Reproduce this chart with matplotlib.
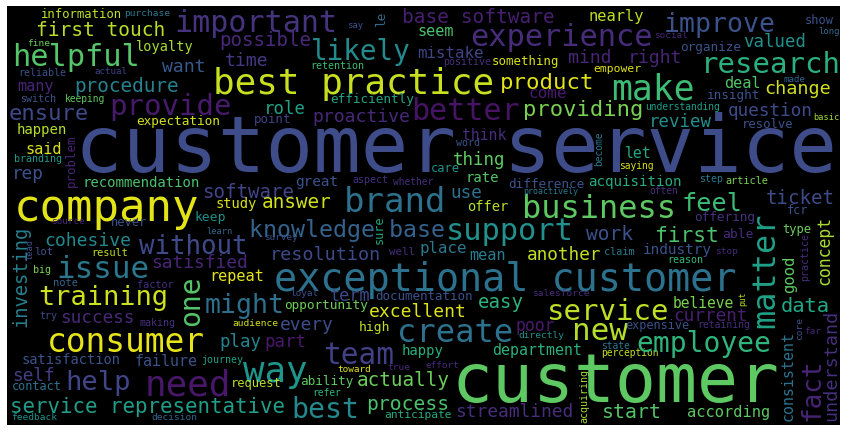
import matplotlib
matplotlib.use("Agg")
import matplotlib.pyplot as plt
from matplotlib.patches import Rectangle

# word cloud: words and their relative weight (drives font size)
words = [
    "customer service", "customer", "company", "exceptional customer", "best practice",
    "important", "experience", "base software", "nearly", "improve", "show", "long",
    "social", "valued", "organize", "mind", "right", "research", "make", "change",
    "deal", "made", "insight", "understanding", "question", "basic", "review",
    "resolve", "providing", "seem", "mistake", "positive", "something", "empower",
    "product", "come", "better", "think", "word", "become", "possible", "likely",
    "say", "le", "time", "retention", "efficiently", "role", "proactive", "point",
    "information", "purchase", "first touch", "fine", "helpful", "loyalty", "want",
    "reliable", "actual", "procedure", "many", "switch", "keeping", "provide",
    "ensure", "expectation", "happen", "problem", "said", "branding", "rep",
    "recommendation", "software", "keep", "source", "never", "learn", "investing",
    "cohesive", "without", "lead", "lot", "result", "satisfied", "issue", "big",
    "note", "factor", "one", "might", "training", "try", "success", "making",
    "consumer", "satisfaction", "failure", "journey", "self", "help", "need",
    "contact", "service representative", "feedback", "decision", "loyal", "term",
    "documentation", "opportunity", "excellent", "audience", "every", "high",
    "create", "play", "part", "team", "happy", "way", "toward", "true", "request",
    "ability", "actually", "refer", "best", "process", "anticipate", "salesforce",
    "easy", "service", "poor", "new", "expensive", "directly", "department",
    "state", "perception", "effort", "acquiring", "streamlined", "start",
    "believe", "put", "matter", "data", "current", "retaining", "core", "far",
    "employee", "consistent", "fact", "understand", "according", "let", "saying",
    "acquisition", "step", "article", "often", "business", "feel", "ticket", "fcr",
    "offering", "first", "able", "type", "concept", "industry", "stop", "reason",
    "good", "practice", "thing", "care", "rate", "difference", "whether",
    "proactively", "brand", "use", "offer", "knowledge base", "support", "work",
    "place", "mean", "another", "claim", "great", "aspect", "answer", "study",
    "sure", "survey", "well", "resolution", "repeat",
]
weights = [
    79, 68, 44, 38.5, 36,
    30, 30.4, 19.5, 15.4, 26.5, 12, 9,
    9.4, 17.4, 12.7, 18.2, 18.2, 29, 34.7, 18.5,
    15.2, 9.1, 12.6, 9.7, 17.6, 8.6, 17.4,
    12.2, 22.2, 15.2, 15.8, 10, 12.4, 11.4,
    22.4, 16, 30, 14.8, 10, 9.7, 19.1, 27.6,
    9, 12.8, 18.2, 10, 12.7, 17.4, 18.2, 12.4,
    12.3, 9.5, 19.5, 9.5, 30.4, 13.6, 18.2,
    10, 9.1, 19.4, 15.2, 10, 9.7, 29,
    22.2, 12.7, 14, 12.4, 15.2, 10, 17.6,
    14, 19.1, 13, 9.4, 12, 8.6, 18.8,
    18, 25.8, 8.7, 10.5, 10.3, 17.9, 30.9, 10,
    10.4, 10.3, 28, 26.5, 27, 10, 17.7, 10,
    32.9, 13.8, 15, 10, 17.8, 27.3, 36,
    11.9, 20.8, 9.5, 9.5, 9.3, 16.9,
    12.5, 12.7, 18, 9.5, 17.9, 13,
    32.2, 17.4, 17.4, 29.5, 14, 35.7, 9.4, 9.5, 12.1,
    12.6, 19.3, 9.6, 28.2, 19.7, 11.2, 9.5,
    19, 29, 16.5, 31, 11.7, 9.5, 14.9,
    9.6, 9.6, 9.4, 10, 17.9, 19.9,
    14.6, 8, 31.9, 20.4, 17.7, 9.8, 9.5, 9.4,
    28, 15, 26, 18.4, 15.4, 14.7, 9.7,
    14.1, 10, 10.2, 9.6, 32, 25.2, 19.1, 11.7,
    12.7, 21.3, 13, 12.1, 16.5, 14.4, 9.5, 10,
    15.6, 10, 17.5, 12.1, 13.9, 12.7, 9.7,
    8.4, 34, 17.6, 13.8, 23.3, 30.4, 19.5,
    15.8, 15.2, 17.7, 10.3, 14.4, 10, 19.4, 13.8,
    11.7, 9.4, 10.9, 18.4, 15.2,
]

# placement of each word (centre x, centre y in pixels, rotation, colour)
layout = {
    "customer service": (456, 150, 0, "#3e4c8a"),
    "customer": (615, 383, 0, "#5ec962"),
    "company": (106, 208, 0, "#e2e418"),
    "exceptional customer": (505, 280, 0, "#2c728e"),
    "best practice": (354, 84, 0, "#c8e020"),
    "important": (256, 24, 0, "#46337e"),
    "experience": (561, 37, 0, "#472c7a"),
    "base software": (478, 17.5, 0, "#481f70"),
    "nearly": (616, 17, 0, "#bddf26"),
    "improve": (720, 25, 0, "#3b528b"),
    "show": (819, 20, 0, "#3b528b"),
    "long": (829, 31, 0, "#31688e"),
    "social": (671, 35, 0, "#482475"),
    "valued": (775, 42, 0, "#21918c"),
    "organize": (711, 47, 0, "#3b528b"),
    "mind": (590, 58, 0, "#482576"),
    "right": (655, 58, 0, "#482576"),
    "research": (771, 65, 0, "#2ab07f"),
    "make": (653, 90, 0, "#3dbc74"),
    "change": (798, 89, 0, "#d0e11c"),
    "deal": (742, 84, 0, "#52c569"),
    "made": (795, 79, 0, "#33638d"),
    "insight": (734, 96, 0, "#3b528b"),
    "understanding": (683, 107, 0, "#1f9e89"),
    "question": (770, 111, 0, "#3e4a89"),
    "basic": (826, 117, 0, "#a0da39"),
    "review": (680, 122, 0, "#218f8d"),
    "resolve": (768, 124, 0, "#3b528b"),
    "providing": (583, 110, 0, "#7ad151"),
    "seem": (436, 31, 0, "#4ac16d"),
    "mistake": (450, 54, 0, "#414487"),
    "positive": (467, 62, 0, "#46307e"),
    "something": (526, 62, 0, "#d8e219"),
    "empower": (617, 69, 0, "#e5e419"),
    "product": (547, 83, 0, "#e2e418"),
    "come": (548, 94, 0, "#481a6c"),
    "better": (466, 112, 0, "#471365"),
    "think": (484, 136, 0, "#472d7b"),
    "word": (468, 143, 0, "#3b528b"),
    "become": (599, 149, 90, "#2a788e"),
    "possible": (265, 41, 0, "#482878"),
    "likely": (361, 52, 0, "#238a8d"),
    "say": (355, 25, 0, "#3b528b"),
    "le": (381, 18, 90, "#2f6c8e"),
    "time": (247, 61, 0, "#443983"),
    "retention": (337, 66, 0, "#3dbc74"),
    "efficiently": (372, 99, 0, "#20a386"),
    "role": (285, 109, 0, "#1fa187"),
    "proactive": (361, 117, 0, "#482878"),
    "point": (273, 120, 0, "#414487"),
    "information": (82, 14, 0, "#bddf26"),
    "purchase": (147, 13.5, 0, "#2a788e"),
    "first touch": (101, 31, 0, "#b8de29"),
    "fine": (39, 43, 0, "#6ccd5a"),
    "helpful": (76, 58, 0, "#54c568"),
    "loyalty": (165, 47, 0, "#a8db34"),
    "want": (184, 67, 0, "#38598c"),
    "reliable": (42, 73, 0, "#3b528b"),
    "actual": (111, 72, 0, "#414487"),
    "procedure": (127, 86, 0, "#26828e"),
    "many": (36, 86, 0, "#482576"),
    "switch": (38, 99, 0, "#3b528b"),
    "keeping": (85, 99, 0, "#5ec962"),
    "provide": (171, 107, 0, "#481a6c"),
    "ensure": (49, 114, 0, "#3e4a89"),
    "expectation": (178, 121, 0, "#d2e21b"),
    "happen": (42, 130, 0, "#b5de2b"),
    "problem": (71, 161, 90, "#482475"),
    "said": (44, 149, 0, "#dae319"),
    "branding": (38, 159, 0, "#1f9a8a"),
    "rep": (28, 174, 0, "#3b528b"),
    "recommendation": (141, 183, 0, "#4ac16d"),
    "software": (248, 192, 0, "#414487"),
    "keep": (210, 218, 0, "#21918c"),
    "source": (68, 222, 0, "#482878"),
    "never": (129, 223, 0, "#3b528b"),
    "learn": (219, 231, 0, "#31688e"),
    "investing": (21, 276, 90, "#277f8e"),
    "cohesive": (88, 241, 0, "#23888e"),
    "without": (193, 247, 0, "#3e4a89"),
    "lead": (30, 249, 90, "#3b528b"),
    "lot": (44, 252, 0, "#3b528b"),
    "result": (110, 253, 0, "#c0df25"),
    "satisfied": (200, 263, 0, "#482677"),
    "issue": (103, 270, 0, "#2a788e"),
    "big": (42, 270, 0, "#7ad151"),
    "note": (65, 283, 0, "#33638d"),
    "factor": (155, 285, 0, "#46307e"),
    "one": (191, 301, 90, "#54c568"),
    "might": (245, 306, 0, "#2d708e"),
    "training": (103, 298, 0, "#cde11d"),
    "try": (48, 316, 0, "#3e4a89"),
    "success": (97, 318, 0, "#482878"),
    "making": (157, 323, 0, "#472f7d"),
    "consumer": (126, 343, 0, "#e7e419"),
    "satisfaction": (71, 360, 0, "#3b528b"),
    "failure": (166, 362, 0, "#3b528b"),
    "journey": (222, 360, 0, "#1fa187"),
    "self": (33, 376, 0, "#433e85"),
    "help": (98, 383, 0, "#414487"),
    "need": (188, 385, 0, "#481769"),
    "contact": (37, 387, 0, "#2c728e"),
    "service representative": (148, 407, 0, "#1f9e89"),
    "feedback": (34, 418, 0, "#21918c"),
    "decision": (174, 418, 0, "#33638d"),
    "loyal": (304, 294, 0, "#3b528b"),
    "term": (350, 296, 0, "#3e4a89"),
    "documentation": (424, 296, 0, "#3b528b"),
    "opportunity": (326, 306, 0, "#6ece58"),
    "excellent": (418, 312, 0, "#dde318"),
    "audience": (255, 324, 0, "#d5e21a"),
    "every": (307, 325, 0, "#3d4d8a"),
    "high": (375, 327, 0, "#c2df23"),
    "create": (455, 334, 0, "#2c728e"),
    "play": (240, 342, 0, "#25858e"),
    "part": (285, 342, 0, "#48186a"),
    "team": (359, 355, 0, "#424086"),
    "happy": (423, 351, 0, "#29af7f"),
    "way": (275, 372, 0, "#1f968b"),
    "toward": (354, 369, 0, "#e5e419"),
    "true": (399, 368, 0, "#482878"),
    "request": (256, 383, 0, "#b5de2b"),
    "ability": (327, 382, 0, "#5ec962"),
    "actually": (403, 381, 0, "#6ccd5a"),
    "refer": (327, 393, 0, "#2fb47c"),
    "best": (325, 410, 0, "#23898e"),
    "process": (408, 405, 0, "#4ac16d"),
    "anticipate": (418, 415, 0, "#25ab82"),
    "salesforce": (561, 294, 0, "#472d7b"),
    "easy": (501, 303, 0, "#2db27d"),
    "service": (608, 312, 0, "#bddf26"),
    "poor": (535, 326, 0, "#481a6c"),
    "new": (600, 331, 0, "#b5de2b"),
    "expensive": (657, 325, 0, "#3b528b"),
    "directly": (541, 335, 0, "#21918c"),
    "department": (537, 350, 0, "#29af7f"),
    "state": (615, 346, 0, "#2a788e"),
    "perception": (630, 353, 0, "#c2df23"),
    "effort": (442, 366, 0, "#482878"),
    "acquiring": (584, 396, 90, "#a5db36"),
    "streamlined": (514, 412, 0, "#472d7b"),
    "start": (632, 412, 0, "#52c569"),
    "believe": (703, 303, 0, "#7ad151"),
    "put": (743, 299, 90, "#b5de2b"),
    "matter": (766, 270, 90, "#1fa188"),
    "data": (805, 307, 0, "#22a785"),
    "current": (710, 316, 0, "#481f70"),
    "retaining": (724, 325, 0, "#472d7b"),
    "core": (800, 329, 90, "#3b528b"),
    "far": (813, 332, 0, "#482878"),
    "employee": (704, 344, 0, "#2fb47c"),
    "consistent": (788, 376, 90, "#2c728e"),
    "fact": (813, 390, 90, "#482475"),
    "understand": (831, 365, 90, "#46307e"),
    "according": (729, 412, 0, "#5ec962"),
    "let": (638, 153, 0, "#22a884"),
    "saying": (636, 166, 0, "#d8e219"),
    "acquisition": (635, 182, 0, "#25ab82"),
    "step": (711, 179, 0, "#2a788e"),
    "article": (747, 181, 0, "#7ad151"),
    "often": (664, 191, 0, "#472d7b"),
    "business": (599, 209, 0, "#5ec962"),
    "feel": (712, 204, 0, "#3dbc74"),
    "ticket": (800, 199, 0, "#3e4a89"),
    "fcr": (798, 211, 0, "#3b528b"),
    "offering": (725, 217, 0, "#46307e"),
    "first": (687, 236, 0, "#4ac16d"),
    "able": (738, 235, 0, "#472d7b"),
    "type": (797, 229, 0, "#6ccd5a"),
    "concept": (824, 250, 90, "#a8db34"),
    "industry": (677, 250, 0, "#3b528b"),
    "stop": (727, 251, 0, "#482878"),
    "reason": (685, 260, 0, "#35b779"),
    "good": (790, 274, 90, "#5ec962"),
    "practice": (805, 257, 90, "#472d7b"),
    "thing": (479, 160, 0, "#5ec962"),
    "care": (445, 168, 0, "#21918c"),
    "rate": (482, 178, 0, "#52c569"),
    "difference": (546, 184, 0, "#3b528b"),
    "whether": (413, 182, 0, "#46307e"),
    "proactively": (551, 192, 0, "#2a788e"),
    "brand": (395, 202, 0, "#2c728e"),
    "use": (466, 193, 0, "#2c728e"),
    "offer": (488, 207, 0, "#b5de2b"),
    "knowledge base": (347, 230, 0, "#33638d"),
    "support": (510, 231, 0, "#22908c"),
    "work": (610, 235, 0, "#3b528b"),
    "place": (443, 249, 0, "#2a788e"),
    "mean": (487, 255, 0, "#287d8e"),
    "another": (564, 255, 0, "#c0df25"),
    "claim": (619, 252, 0, "#2a788e"),
    "great": (317, 182, 0, "#3b528b"),
    "aspect": (370, 180, 0, "#46307e"),
    "answer": (297, 203, 0, "#d0e11c"),
    "study": (236, 204, 0, "#d8e219"),
    "sure": (379, 230, 90, "#22a884"),
    "survey": (281, 238, 0, "#3b528b"),
    "well": (402, 252, 0, "#472d7b"),
    "resolution": (325, 255, 0, "#3e4a89"),
    "repeat": (237, 277, 0, "#e5e419"),
}

fig = plt.figure(figsize=(8.51, 4.32), dpi=100, facecolor="white")
ax = fig.add_axes([0, 0, 1, 1])
ax.set_xlim(0, 851)
ax.set_ylim(432, 0)
ax.axis("off")

bg = Rectangle((7, 6), 833, 419, facecolor="black", edgecolor="none")
ax.add_patch(bg)

px2pt = 72 / fig.dpi
for w, f in zip(words, weights):
    x, y, rot, col = layout[w]
    t = ax.text(x, y, w, fontsize=f * px2pt, color=col, rotation=rot,
                ha="center", va="center", rotation_mode="anchor",
                family="DejaVu Sans Mono")
    t.set_clip_path(bg)

fig.savefig("out.png", dpi=100, facecolor="white")
